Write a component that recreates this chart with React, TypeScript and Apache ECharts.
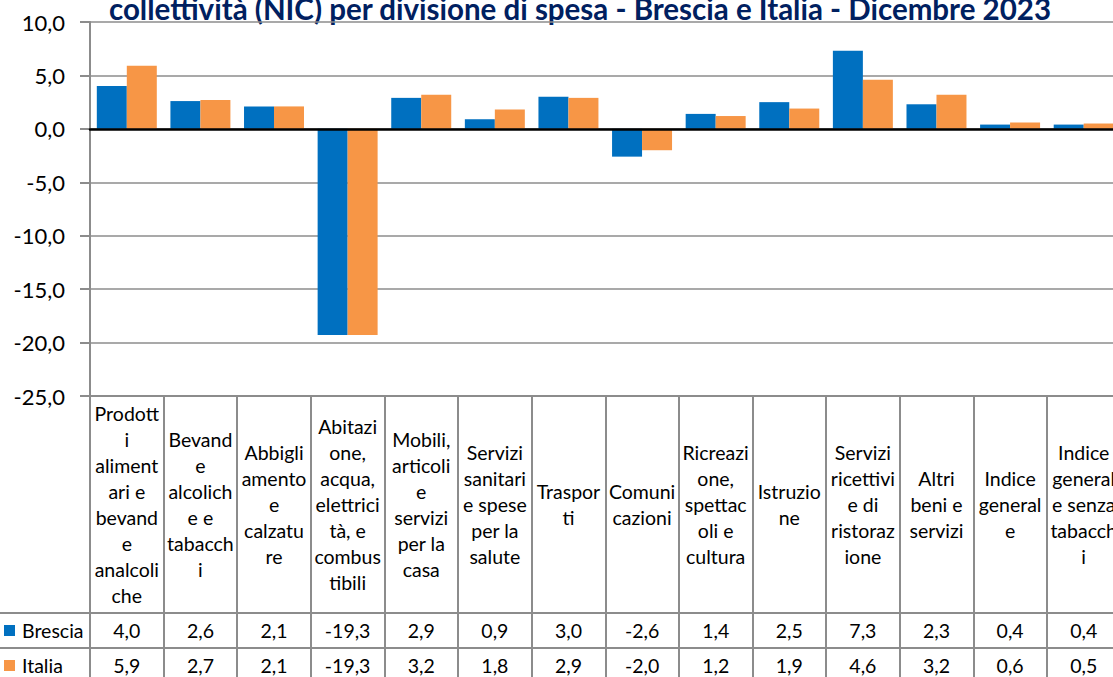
import React, { useEffect, useRef } from "react";
import * as echarts from "echarts";

const categories = [
  "Prodott\ni\naliment\nari e\nbevand\ne\nanalcoli\nche",
  "Bevand\ne\nalcolich\ne e\ntabacch\ni",
  "Abbigli\namento\ne\ncalzatu\nre",
  "Abitazi\none,\nacqua,\nelettrici\ntà, e\ncombus\ntibili",
  "Mobili,\narticoli\ne\nservizi\nper la\ncasa",
  "Servizi\nsanitari\ne spese\nper la\nsalute",
  "Traspor\nti",
  "Comuni\ncazioni",
  "Ricreazi\none,\nspettac\noli e\ncultura",
  "Istruzio\nne",
  "Servizi\nricettivi\ne di\nristoraz\nione",
  "Altri\nbeni e\nservizi",
  "Indice\ngeneral\ne",
  "Indice\ngeneral\ne senza\ntabacch\ni",
];
const brescia = [4.0, 2.6, 2.1, -19.3, 2.9, 0.9, 3.0, -2.6, 1.4, 2.5, 7.3, 2.3, 0.4, 0.4];
const italia = [5.9, 2.7, 2.1, -19.3, 3.2, 1.8, 2.9, -2.0, 1.2, 1.9, 4.6, 3.2, 0.6, 0.5];
const seriesNames = ["Brescia", "Italia"];
const seriesColors = ["#0070C0", "#F79646"];
const yMin = -25;
const yMax = 10;
const yInterval = 5;
const titleText =
  "collettività (NIC) per divisione di spesa - Brescia e Italia - Dicembre 2023";

const fmt = (v: number) => v.toFixed(1).replace(".", ",");

const GRID_LEFT = 90;
const GRID_TOP = 22;
const GRID_W = 1030.5;
const GRID_H = 374;
const TABLE_TOP = GRID_TOP + GRID_H;
const ROW1 = 613;
const ROW2 = 648;
const ROW3 = 683;
const LINE = "#8c8c8c";
const FONT = "Lato";

export default function App() {
  const ref = useRef<HTMLDivElement>(null);
  useEffect(() => {
    if (!ref.current) return;
    const chart = echarts.init(ref.current, undefined, { renderer: "svg" });
    const tableLabel = {
      interval: 0,
      verticalAlign: "middle" as const,
      align: "center" as const,
      fontSize: 19.5,
      fontFamily: FONT,
      color: "#000",
      hideOverlap: false,
    };
    chart.setOption({
      animation: false,
      grid: {
        left: GRID_LEFT,
        top: GRID_TOP,
        width: GRID_W,
        height: GRID_H,
        containLabel: false,
        outerBoundsMode: "none",
      },
      xAxis: [
        {
          type: "category",
          data: categories,
          position: "bottom",
          axisLine: { onZero: true, lineStyle: { color: "#000", width: 2.5 } },
          axisTick: { show: false },
          axisLabel: { show: false },
          z: 5,
        },
        {
          type: "category",
          data: categories,
          position: "bottom",
          axisLine: { onZero: false, lineStyle: { color: LINE, width: 2 } },
          axisTick: {
            show: true,
            interval: 0,
            inside: false,
            length: 300,
            lineStyle: { color: LINE, width: 2 },
          },
          axisLabel: {
            ...tableLabel,
            margin: (ROW1 - TABLE_TOP) / 2,
            lineHeight: 26,
          },
        },
        {
          type: "category",
          data: categories,
          position: "bottom",
          axisLine: { show: false, onZero: false },
          axisTick: { show: false },
          axisLabel: {
            ...tableLabel,
            margin: (ROW1 + ROW2) / 2 - TABLE_TOP,
            formatter: (_v: string, i: number) => fmt(brescia[i]),
          },
        },
        {
          type: "category",
          data: categories,
          position: "bottom",
          axisLine: { show: false, onZero: false },
          axisTick: { show: false },
          axisLabel: {
            ...tableLabel,
            margin: (ROW2 + ROW3) / 2 - TABLE_TOP,
            formatter: (_v: string, i: number) => fmt(italia[i]),
          },
        },
      ],
      yAxis: {
        type: "value",
        min: yMin,
        max: yMax,
        interval: yInterval,
        axisLine: { show: true, lineStyle: { color: LINE, width: 2 } },
        axisTick: { show: true, length: 10, lineStyle: { color: LINE, width: 2 } },
        splitLine: { show: true, lineStyle: { color: LINE, width: 1.5 } },
        axisLabel: {
          formatter: (v: number) => fmt(v),
          fontSize: 22,
          fontFamily: FONT,
          color: "#000",
          margin: 25,
        },
      },
      series: [
        {
          name: seriesNames[0],
          type: "bar",
          data: brescia,
          barGap: "0%",
          barCategoryGap: "18.5%",
          itemStyle: { color: seriesColors[0] },
        },
        {
          name: seriesNames[1],
          type: "bar",
          data: italia,
          barGap: "0%",
          barCategoryGap: "18.5%",
          itemStyle: { color: seriesColors[1] },
        },
      ],
      graphic: [
        {
          type: "text",
          x: 580,
          y: 23,
          style: {
            text: titleText,
            font: `bold 29.5px ${FONT}`,
            fill: "#002060",
            textAlign: "center",
            textVerticalAlign: "bottom",
            align: "center",
            verticalAlign: "bottom",
          },
        },
        { type: "line", shape: { x1: 0, y1: ROW1, x2: 1113, y2: ROW1 }, style: { stroke: LINE, lineWidth: 2 } },
        { type: "line", shape: { x1: 0, y1: ROW2, x2: 1113, y2: ROW2 }, style: { stroke: LINE, lineWidth: 2 } },
        { type: "line", shape: { x1: 0, y1: ROW3, x2: 1113, y2: ROW3 }, style: { stroke: LINE, lineWidth: 2 } },
        { type: "rect", shape: { x: 4, y: (ROW1 + ROW2) / 2 - 5.5, width: 11, height: 11 }, style: { fill: seriesColors[0] } },
        { type: "rect", shape: { x: 4, y: (ROW2 + ROW3) / 2 - 5.5, width: 11, height: 11 }, style: { fill: seriesColors[1] } },
        {
          type: "text",
          x: 22,
          y: (ROW1 + ROW2) / 2,
          style: { text: seriesNames[0], font: `19.5px ${FONT}`, fill: "#000", textVerticalAlign: "middle", verticalAlign: "middle" },
        },
        {
          type: "text",
          x: 22,
          y: (ROW2 + ROW3) / 2,
          style: { text: seriesNames[1], font: `19.5px ${FONT}`, fill: "#000", textVerticalAlign: "middle", verticalAlign: "middle" },
        },
      ],
    });
    return () => chart.dispose();
  }, []);
  return (
    <div
      ref={ref}
      style={{ position: "fixed", left: 0, top: 0, width: 1113, height: 677, background: "#fff" }}
    />
  );
}
